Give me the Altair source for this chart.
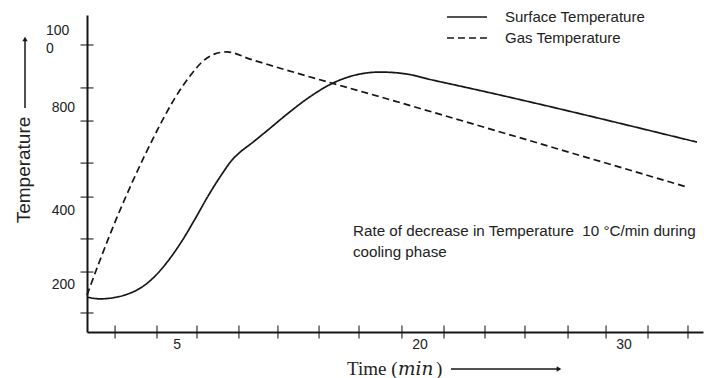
import altair as alt
import pandas as pd

# ---- data (time in min, temperature in chart units) ----
surface_time = [0.0, 0.67, 1.44, 2.10, 2.82, 3.49, 4.15, 4.87, 5.54, 6.21, 6.92, 7.44, 7.85,
                8.46, 9.28, 10.15, 11.28, 12.62, 13.85, 15.03, 16.41, 17.74, 19.49, 31.28]
surface_temp = [121, 115, 120, 132, 156, 194, 246, 316, 392, 472, 548, 597, 624,
                656, 701, 750, 809, 864, 893, 902, 895, 874, 848, 659]
gas_time = [0.0, 0.67, 1.44, 2.21, 2.97, 3.74, 4.51, 5.28, 5.95, 6.56, 7.18, 8.36, 16.05, 30.77]
gas_temp = [128, 250, 382, 503, 614, 718, 812, 888, 940, 965, 972, 947, 796, 503]

series_names = ["Surface Temperature", "Gas Temperature"]

x_tick_values = [1.44, 3.59, 5.64, 7.79, 9.79, 11.90, 13.95, 16.15, 18.31, 20.41,
                 22.46, 24.67, 26.62, 28.77, 30.82]
x_label_values = [4.62, 17.08, 27.54]
x_label_texts = ["5", "20", "30"]

y_tick_values = [66, 208, 323, 468, 586, 732, 847, 996]
y_label_values = [777, 420, 163]
y_label_texts = ["800", "400", "200"]
y_top_label_value = [1044]
y_top_label_text = ["100\n0"]

note_text = "Rate of decrease in Temperature\u00a0 10 \u00b0C/min during\ncooling phase"

# ---- tables ----
lines_df = pd.concat([
    pd.DataFrame({"t": surface_time, "T": surface_temp, "series": series_names[0]}),
    pd.DataFrame({"t": gas_time, "T": gas_temp, "series": series_names[1]}),
], ignore_index=True)
xticks_df = pd.DataFrame({"t": x_tick_values})
yticks_df = pd.DataFrame({"T": y_tick_values})
xlab_df = pd.DataFrame({"t": x_label_values, "label": x_label_texts})
ylab_df = pd.DataFrame({"T": y_label_values, "label": y_label_texts})
ytop_df = pd.DataFrame({"T": y_top_label_value, "label": y_top_label_text})
one = pd.DataFrame({"k": [0]})

INK = "#161616"
TXT = "#222222"
SANS = "Liberation Sans"

xscale = alt.Scale(domain=[0, 31.59], nice=False, zero=False)
yscale = alt.Scale(domain=[0, 1100], nice=False, zero=False)
AX = alt.Axis(title=None, labels=False, ticks=False, grid=False,
              domainColor=INK, domainWidth=2)


def X(field=None, datum=None):
    if field is not None:
        return alt.X(field, scale=xscale, axis=AX)
    return alt.X(datum=datum, scale=xscale, axis=AX)


def Y(field=None, datum=None):
    if field is not None:
        return alt.Y(field, scale=yscale, axis=AX)
    return alt.Y(datum=datum, scale=yscale, axis=AX)


lines = alt.Chart(lines_df).mark_line(interpolate="monotone", color=INK, strokeWidth=1.7).encode(
    x=X("t:Q"),
    y=Y("T:Q"),
    strokeDash=alt.StrokeDash(
        "series:N",
        scale=alt.Scale(domain=series_names, range=[[1, 0], [7, 4]]),
        legend=alt.Legend(
            title=None, orient="none", legendX=367, legendY=-11,
            symbolType="M-1.67,0H1.67", symbolSize=576, symbolStrokeWidth=1.6,
            symbolStrokeColor=INK, labelFontSize=15, labelFont=SANS, labelColor=TXT,
            labelOffset=25, padding=0, rowPadding=0,
        ),
    ),
    order=alt.Order("t:Q"),
)

xticks = alt.Chart(xticks_df).mark_tick(orient="vertical", size=13, thickness=1.5, color=INK).encode(
    x=X("t:Q"), y=Y(datum=0))
yticks = alt.Chart(yticks_df).mark_tick(orient="horizontal", size=13, thickness=1.5, color=INK).encode(
    y=Y("T:Q"), x=X(datum=0))

xlabels = alt.Chart(xlab_df).mark_text(fontSize=14, font=SANS, color=TXT, dy=13,
                                       align="center", baseline="middle").encode(
    x=X("t:Q"), y=Y(datum=0), text="label:N")
ylabels = alt.Chart(ylab_df).mark_text(fontSize=14, font=SANS, color=TXT, dx=-12,
                                       align="right", baseline="middle").encode(
    y=Y("T:Q"), x=X(datum=0), text="label:N")
ytop = alt.Chart(ytop_df).mark_text(fontSize=14, font=SANS, color=TXT, dx=-41, lineBreak="\n",
                                    lineHeight=18, align="left", baseline="middle").encode(
    y=Y("T:Q"), x=X(datum=0), text="label:N")

note = alt.Chart(one).mark_text(fontSize=15.2, font=SANS, color=TXT, align="left", baseline="middle",
                                lineBreak="\n", lineHeight=21).encode(
    x=alt.value(266), y=alt.value(216), text=alt.value(note_text))

ytitle = alt.Chart(one).mark_text(fontSize=19, font=SANS, color=TXT, angle=270,
                                  align="center", baseline="middle").encode(
    x=alt.value(-63), y=alt.value(155), text=alt.value("Temperature"))
yarrow = alt.Chart(one).mark_rule(color=INK, strokeWidth=1.5).encode(
    x=alt.value(-62), y=alt.value(93), y2=alt.value(25))
yhead = alt.Chart(one).mark_point(shape="triangle-up", filled=True, size=28, color=INK, opacity=1).encode(
    x=alt.value(-62), y=alt.value(24))

xt1 = alt.Chart(one).mark_text(fontSize=19, font="Liberation Serif", color=TXT, align="left",
                               baseline="alphabetic").encode(
    x=alt.value(260), y=alt.value(360), text=alt.value("Time ("))
xt2 = alt.Chart(one).mark_text(fontSize=18.5, font="DejaVu Serif", fontStyle="italic", color=TXT,
                               align="left", baseline="alphabetic").encode(
    x=alt.value(311), y=alt.value(360), text=alt.value("min"))
xt3 = alt.Chart(one).mark_text(fontSize=19, font="Liberation Serif", color=TXT, align="left",
                               baseline="alphabetic").encode(
    x=alt.value(349), y=alt.value(360), text=alt.value(")"))
xarrow = alt.Chart(one).mark_rule(color=INK, strokeWidth=1.5).encode(
    x=alt.value(364), x2=alt.value(471), y=alt.value(354))
xhead = alt.Chart(one).mark_point(shape="triangle-right", filled=True, size=28, color=INK, opacity=1).encode(
    x=alt.value(472), y=alt.value(354))

chart = alt.layer(
    lines, xticks, yticks, xlabels, ylabels, ytop, note,
    ytitle, yarrow, yhead, xt1, xt2, xt3, xarrow, xhead,
).properties(
    width=616, height=317,
    autosize=alt.AutoSizeParams(type="none"),
    padding={"left": 79, "top": 7, "right": 1, "bottom": 46},
    background="white",
).configure_view(stroke=None)

chart.save("out.html", embed_options={"renderer": "svg", "actions": False})
